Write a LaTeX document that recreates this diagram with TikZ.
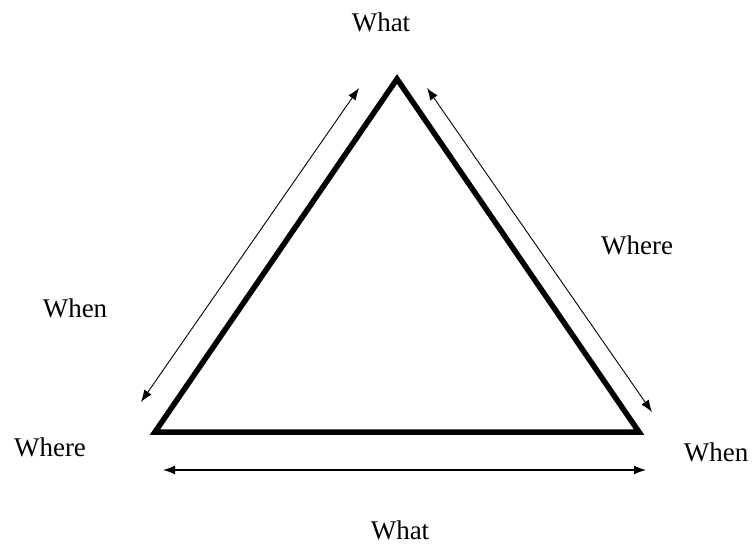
\documentclass[tikz,border=0pt]{standalone}
\usepackage{fontspec}
\setmainfont{Liberation Serif}
\usetikzlibrary{arrows.meta}
\begin{document}
\begin{tikzpicture}[x=1pt,y=-1pt,
  tri/.style={line width=5.5pt, line join=miter},
  dbl/.style={line width=0.9pt, {Latex[length=12pt,width=9pt]}-{Latex[length=12pt,width=9pt]}},
  lbl/.style={font=\fontsize{27}{30}\selectfont, inner sep=0pt}]
\useasboundingbox (0,0) rectangle (752,545);
\coordinate (T) at (397,79);
\coordinate (L) at (155,432);
\coordinate (R) at (639,432);
\draw[tri] (T) -- (L) -- (R) -- cycle;
\coordinate (a1) at (141,402);
\coordinate (a2) at (359,88);
\coordinate (b1) at (427,88);
\coordinate (b2) at (652,412);
\coordinate (c1) at (163,470);
\coordinate (c2) at (646,470);
\draw[dbl] (a1) -- (a2);
\draw[dbl] (b1) -- (b2);
\draw[dbl, line width=1.3pt] (c1) -- (c2);
\node[lbl] (wtop) at (381,22) {What};
\node[lbl] (wright) at (637,245) {Where};
\node[lbl] (wleft) at (75,308) {When};
\node[lbl] (wbl) at (50,447) {Where};
\node[lbl] (wbr) at (716,452) {When};
\node[lbl] (wbot) at (400,530) {What};
\end{tikzpicture}
\end{document}
